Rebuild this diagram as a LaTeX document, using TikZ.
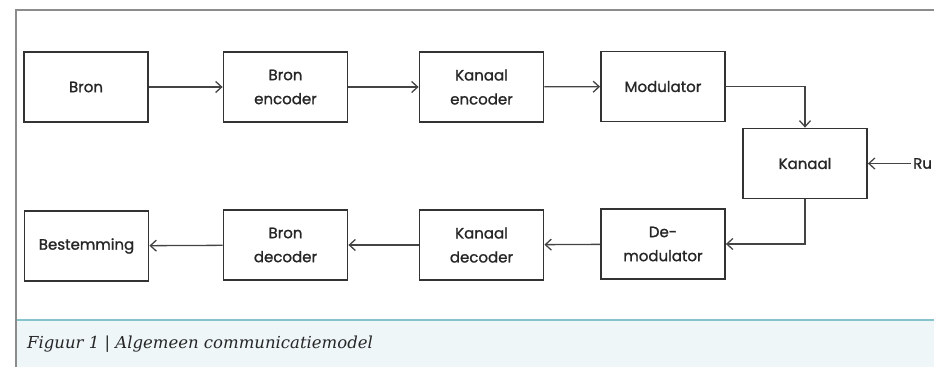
\documentclass[tikz,border=0pt]{standalone}
\usepackage{fontspec}
\setmainfont{Poppins}
\newfontfamily\boxfont{Poppins}[FakeBold=1.2]
\newfontfamily\capfont{DejaVu Serif}
\usetikzlibrary{arrows.meta}
\definecolor{boxline}{HTML}{333333}
\definecolor{arrowline}{HTML}{444444}
\definecolor{frameline}{HTML}{8C8C8C}
\definecolor{capfill}{HTML}{EEF6F8}
\definecolor{capline}{HTML}{86C4CC}
\definecolor{txt}{HTML}{262626}
\tikzset{
  blok/.style={draw=boxline, line width=1.8pt, rectangle, minimum width=124pt, minimum height=70pt,
    align=center, font=\boxfont\fontsize{15}{24}\selectfont, text=txt, inner sep=0pt},
  pijl/.style={draw=arrowline, line width=1.3pt, -{Straight Barb[length=6pt,width=11pt,line width=1.3pt]}},
}
\begin{document}
\begin{tikzpicture}[x=1pt,y=-1pt]
\useasboundingbox (0,0) rectangle (934,367);
\clip (0,0) rectangle (934,367);
% caption band
\fill[capfill] (16,320) rectangle (934,367);
\draw[capline, line width=1.4pt] (16,320) -- (934,320);
% outer frame
\draw[frameline, line width=1.4pt] (945,10) -- (16,10) -- (16,367);
% boxes
\node[blok] (bron) at (86,87) {Bron};
\node[blok] (benc) at (285.5,87) {Bron\\encoder};
\node[blok] (kenc) at (481.5,87) {Kanaal\\encoder};
\node[blok] (mod) at (663,86.5) {Modulator};
\node[blok] (kan) at (805,163.5) {Kanaal};
\node[blok] (demod) at (663,244) {De-\\modulator};
\node[blok] (kdec) at (481.5,245) {Kanaal\\decoder};
\node[blok] (bdec) at (285.5,245) {Bron\\decoder};
\node[blok] (best) at (86.5,246) {Bestemming};
\node[anchor=west, inner sep=0pt, font=\boxfont\fontsize{15}{18}\selectfont, text=txt] (ruis) at (913,163.5) {Ru};
% connectors
\draw[pijl] (bron) -- (benc);
\draw[pijl] (benc) -- (kenc);
\draw[pijl] (kenc) -- (mod);
\draw[pijl] (mod.east) -| (kan.north);
\draw[pijl] (kan.south) |- (demod.east);
\draw[pijl] (demod) -- (kdec);
\draw[pijl] (kdec) -- (bdec);
\draw[pijl] (bdec) -- (best);
\draw[pijl] ([xshift=-2pt]ruis.west) -- (kan.east);
% caption
\node[anchor=base west, inner sep=0pt, font=\capfont\itshape\fontsize{16.5}{19}\selectfont, text=txt] (cap) at (27,348) {Figuur 1 | Algemeen communicatiemodel};
\end{tikzpicture}
\end{document}
